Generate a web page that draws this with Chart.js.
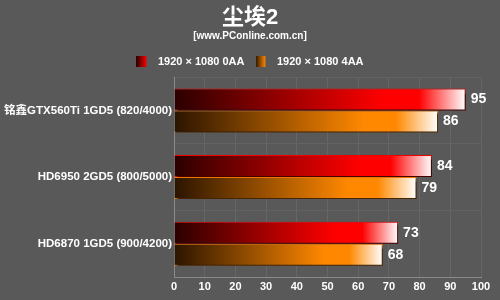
<!DOCTYPE html>
<html>
<head>
<meta charset="utf-8">
<script src="https://cdn.jsdelivr.net/npm/chart.js@4"></script>
<style>
  html, body { margin: 0; padding: 0; background: #595959; }
  #wrap { width: 500px; height: 300px; position: relative; }
</style>
</head>
<body>
<div id="wrap"><canvas id="chart"></canvas></div>
<script>
const cards = ['铭鑫GTX560Ti 1GD5 (820/4000)', 'HD6950 2GD5 (800/5000)', 'HD6870 1GD5 (900/4200)'];
const noAA = [95, 84, 73];
const fourAA = [86, 79, 68];
const seriesNames = ['1920 × 1080 0AA', '1920 × 1080 4AA'];
const xTicks = [0, 10, 20, 30, 40, 50, 60, 70, 80, 90, 100];

const fontFamily = '"Liberation Sans", Arial, "Noto Sans CJK SC", sans-serif';

function barGradient(ctx, dark, mid, value) {
    const chart = ctx.chart;
    const x = chart.scales && chart.scales.x;
    if (!x || !chart.chartArea) return mid;
    const x0 = x.getPixelForValue(0);
    const x1 = x.getPixelForValue(value);
    const g = chart.ctx.createLinearGradient(x0, 0, x1, 0);
    g.addColorStop(0, dark);
    g.addColorStop(0.72, mid);
    g.addColorStop(0.84, mid);
    g.addColorStop(1, '#ffffff');
    return g;
}

// legend icon: 10px square on a 16px wide transparent canvas so the text sits further right
function legendIcon(dark, bright) {
    const c = document.createElement('canvas');
    c.width = 16; c.height = 11;
    const g = c.getContext('2d');
    const gr = g.createLinearGradient(0, 0, 10, 0);
    gr.addColorStop(0, dark);
    gr.addColorStop(1, bright);
    g.fillStyle = gr;
    g.fillRect(0, 0, 10, 11);
    return c;
}

const colors = [
    { dark: '#2a0000', mid: '#ff0000', border: '#ee0000' },
    { dark: '#2a1400', mid: '#ff8800', border: '#ee7700' }
];

const valueLabels = {
    id: 'valueLabels',
    afterDatasetsDraw(chart) {
        const ctx = chart.ctx;
        ctx.save();
        ctx.fillStyle = '#ffffff';
        ctx.font = 'bold 14px ' + fontFamily;
        ctx.textBaseline = 'middle';
        chart.data.datasets.forEach((ds, i) => {
            chart.getDatasetMeta(i).data.forEach((bar, j) => {
                ctx.fillText(ds.data[j], bar.x + 5, bar.y);
            });
        });
        ctx.restore();
    }
};

const barShadow = {
    id: 'barShadow',
    beforeDatasetsDraw(chart) {
        const ctx = chart.ctx;
        ctx.save();
        ctx.shadowColor = 'rgba(0,0,0,0.7)';
        ctx.shadowOffsetX = 1;
        ctx.shadowOffsetY = 2;
        ctx.shadowBlur = 1;
    },
    afterDatasetsDraw(chart) {
        chart.ctx.restore();
    }
};

new Chart(document.getElementById('chart'), {
    type: 'bar',
    data: {
        labels: cards,
        datasets: [noAA, fourAA].map((vals, i) => ({
            label: seriesNames[i],
            data: vals,
            backgroundColor: ctx => barGradient(ctx, colors[i].dark, colors[i].mid, vals[ctx.dataIndex]),
            borderColor: colors[i].border,
            borderWidth: 1,
            borderSkipped: 'left',
            categoryPercentage: 0.66,
            barPercentage: 1,
            pointStyle: legendIcon(colors[i].dark, colors[i].mid)
        }))
    },
    options: {
        indexAxis: 'y',
        responsive: true,
        maintainAspectRatio: false,
        animation: false,
        layout: { padding: 0 },
        scales: {
            x: {
                min: 0,
                max: 100,
                afterBuildTicks: axis => { axis.ticks = xTicks.map(v => ({ value: v })); },
                grid: { color: '#666666', drawTicks: false },
                border: { color: '#8a8a8a', width: 1 },
                ticks: {
                    color: '#ffffff',
                    padding: 3,
                    font: { family: fontFamily, size: 11, weight: 'bold' }
                },
                afterFit: axis => { axis.height = 23; }
            },
            y: {
                grid: { color: '#636363', drawTicks: false },
                border: { color: '#8a8a8a', width: 1 },
                ticks: {
                    color: '#ffffff',
                    padding: 2,
                    font: { family: fontFamily, size: 11.5, weight: 'bold' }
                },
                afterFit: axis => { axis.width = 174; }
            },
            // empty axis on the right, only to keep the right margin
            yRight: {
                position: 'right',
                grid: { display: false },
                border: { display: false },
                ticks: { display: false },
                afterFit: axis => { axis.width = 19; }
            }
        },
        plugins: {
            title: {
                display: true,
                text: '尘埃2',
                color: '#ffffff',
                font: { family: '"Liberation Sans", "Noto Sans CJK SC", sans-serif', size: 22, weight: 'bold', lineHeight: 1.1 },
                padding: { top: 6, bottom: 0 }
            },
            subtitle: {
                display: true,
                text: '[www.PConline.com.cn]',
                color: '#ffffff',
                font: { family: fontFamily, size: 10, weight: 'bold' },
                padding: { top: 0, bottom: 3 }
            },
            legend: {
                position: 'top',
                labels: {
                    color: '#ffffff',
                    usePointStyle: true,
                    pointStyleWidth: 16,
                    boxWidth: 10,
                    boxHeight: 11,
                    padding: 11,
                    font: { family: fontFamily, size: 11, weight: 'bold' }
                }
            },
            tooltip: { enabled: false }
        }
    },
    plugins: [barShadow, valueLabels]
});
</script>
</body>
</html>
